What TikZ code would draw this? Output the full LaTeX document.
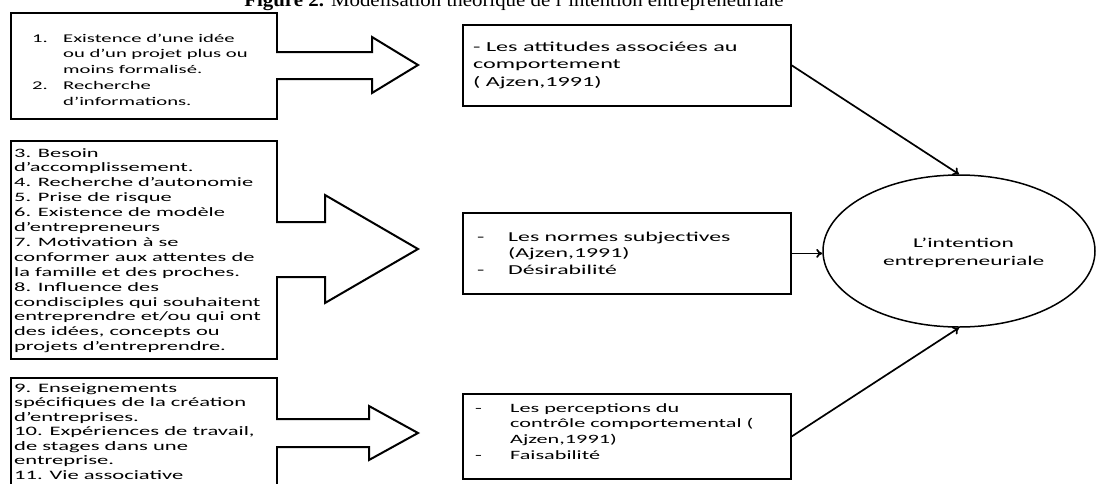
\documentclass[tikz,border=0pt]{standalone}
\usepackage{fontspec}
\setmainfont{Liberation Serif}
\newfontfamily\cf[FakeStretch=1.75]{Carlito}
\newfontfamily\tfont[FakeStretch=1.1]{Liberation Serif}
\usetikzlibrary{shapes.geometric,arrows.meta}
\newcommand\tsz[2]{\cf\fontsize{#1}{#2}\selectfont}
\newcommand\hang[2]{\makebox[#1][l]{#2}}
\begin{document}
\begin{tikzpicture}[x=1pt,y=-1pt,
  box/.style={draw=black,line width=2pt,fill=white,inner sep=0pt,anchor=north west},
  rbox/.style={draw=black,line width=1.8pt,fill=white,inner sep=0pt,anchor=north west},
  txt/.style={inner sep=0pt,anchor=base west},
  barrow/.style={draw=black,line width=2pt,line join=miter,fill=white},
  conn/.style={draw=black,line width=1.7pt,-{To[length=6pt,width=9pt]}}]
\useasboundingbox (0,0) rectangle (1096,483);
\clip (0,0) rectangle (1096,483);
\fill[white] (0,0) rectangle (1096,483);

% title (cut off at the top, as in the reference)
\node[inner sep=0pt,anchor=base] (title) at (514,6)
  {\tfont\fontsize{19}{22}\selectfont\textbf{Figure 2.} Modélisation théorique de l’intention entrepreneuriale};

% left boxes
\node[box,minimum width=266pt,minimum height=106pt] (b1) at (10,12) {};
\node[box,minimum width=266pt,minimum height=218pt] (b2) at (10,140) {};
\node[box,minimum width=266pt,minimum height=130pt] (b3) at (10,377) {};

% block arrows
\fill[white] (272,53) rectangle (280,78);
\draw[barrow] (276,52) -- (372,52) -- (372,37) -- (418,65) -- (372,93) -- (372,79) -- (276,79);
\fill[white] (272,223) rectangle (280,276);
\draw[barrow] (276,222) -- (325,222) -- (325,195) -- (418,249) -- (325,303) -- (325,277) -- (276,277);
\fill[white] (272,420) rectangle (280,446);
\draw[barrow] (276,419) -- (369,419) -- (369,406) -- (418,433) -- (369,460) -- (369,447) -- (276,447);

% left texts
\node[txt] (t1) at (32,42) {\tsz{11.8}{15.8}\begin{tabular}[t]{@{}l@{}}
\hang{31pt}{1.}Existence d’une idée\\
\hang{31pt}{}ou d’un projet plus ou\\
\hang{31pt}{}moins formalisé.\\
\hang{31pt}{2.}Recherche\\
\hang{31pt}{}d’informations.
\end{tabular}};
\node[txt] (t2) at (14,157) {\tsz{12.8}{14.9}\begin{tabular}[t]{@{}l@{}}
3. Besoin\\
d’accomplissement.\\
4. Recherche d’autonomie\\
5. Prise de risque\\
6. Existence de modèle\\
d’entrepreneurs\\
7. Motivation à se\\
conformer aux attentes de\\
la famille et des proches.\\
8. Influence des\\
condisciples qui souhaitent\\
entreprendre et/ou qui ont\\
des idées, concepts ou\\
projets d’entreprendre.
\end{tabular}};
\node[txt] (t3) at (14,392) {\tsz{12.9}{14.5}\begin{tabular}[t]{@{}l@{}}
9. Enseignements\\
spécifiques de la création\\
d’entreprises.\\
10. Expériences de travail,\\
de stages dans une\\
entreprise.\\
11. Vie associative
\end{tabular}};

% right boxes
\node[rbox,minimum width=328pt,minimum height=81pt] (ra) at (462,24) {};
\node[rbox,minimum width=328pt,minimum height=81pt] (rb) at (462,212) {};
\node[rbox,minimum width=328pt,minimum height=85pt] (rc) at (462,393) {};

\node[txt] (ta) at (473,51) {\tsz{13.8}{17.5}\begin{tabular}[t]{@{}l@{}}
- Les attitudes associées au\\
comportement\\
( Ajzen,1991)
\end{tabular}};
\node[txt] (tb) at (477,241) {\tsz{13.6}{16.7}\begin{tabular}[t]{@{}l@{}}
\hang{31pt}{-}Les normes subjectives\\
\hang{31pt}{}(Ajzen,1991)\\
\hang{31pt}{-}Désirabilité
\end{tabular}};
\node[txt] (tc) at (475,412) {\tsz{12.7}{15.7}\begin{tabular}[t]{@{}l@{}}
\hang{35pt}{-}Les perceptions du\\
\hang{35pt}{}contrôle comportemental (\\
\hang{35pt}{}Ajzen,1991)\\
\hang{35pt}{-}Faisabilité
\end{tabular}};

% ellipse
\node[draw=black,ellipse,line width=1.5pt,minimum width=272pt,minimum height=152pt,inner sep=0pt,fill=white] (e) at (959,251) {};
\node[txt] (te) at (883,247) {\tsz{13.4}{18}\begin{tabular}[t]{@{}l@{}}
\hspace*{30pt}L’intention\\
entrepreneuriale
\end{tabular}};

% connectors
\draw[conn] (ra.east) -- (e.north);
\draw[conn] (rb.east) -- (rb.east -| e.west);
\draw[conn] (rc.east) -- (e.south);
\end{tikzpicture}
\end{document}
